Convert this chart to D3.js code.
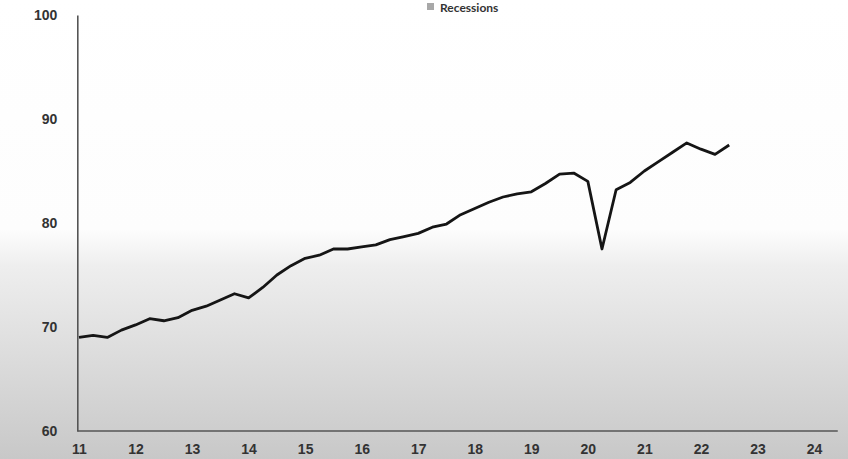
<!DOCTYPE html>
<html>
<head>
<meta charset="utf-8">
<script src="https://cdn.jsdelivr.net/npm/d3@7"></script>
<style>
  body { margin: 0; background: #fff; }
  svg { display: block; font-family: "Lato", "Open Sans", sans-serif; }
  .tick-label { fill: #333; font-size: 14px; font-weight: 700; }
</style>
</head>
<body>
<div id="chart"></div>
<script>
// quarterly series, 2011 Q1 .. 2022 Q3
var years = [2011, 2012, 2013, 2014, 2015, 2016, 2017, 2018, 2019, 2020, 2021, 2022];
var values = [
  69.0, 69.2, 69.0, 69.7,
  70.2, 70.8, 70.6, 70.9,
  71.6, 72.0, 72.6, 73.2,
  72.8, 73.8, 75.0, 75.9,
  76.6, 76.9, 77.5, 77.5,
  77.7, 77.9, 78.4, 78.7,
  79.0, 79.6, 79.9, 80.8,
  81.4, 82.0, 82.5, 82.8,
  83.0, 83.8, 84.7, 84.8,
  84.0, 77.5, 83.2, 83.9,
  85.0, 85.9, 86.8, 87.7,
  87.1, 86.6, 87.5
];
var xTicks = [11, 12, 13, 14, 15, 16, 17, 18, 19, 20, 21, 22, 23, 24];
var yTicks = [60, 70, 80, 90, 100];
var legendLabel = "Recessions";

var W = 848, H = 459;

// build date points from the year list: year + quarter offset
var data = values.map(function(v, i) {
  return { t: years[0] + i / 4, v: v };
});

var x = d3.scaleLinear().domain([2011, 2024]).range([79, 814]);
var y = d3.scaleLinear().domain([60, 100]).range([431, 15]);
var xLeft = 2010.97, xRight = 2024.42;

var svg = d3.select("#chart").append("svg")
  .attr("width", W)
  .attr("height", H);

// background fade, white on top and gray at the bottom
var defs = svg.append("defs");
var grad = defs.append("linearGradient")
  .attr("id", "bg").attr("x1", 0).attr("y1", 0).attr("x2", 0).attr("y2", 1);
grad.append("stop").attr("offset", "0%").attr("stop-color", "#ffffff");
grad.append("stop").attr("offset", "50%").attr("stop-color", "#fdfdfd");
grad.append("stop").attr("offset", "58%").attr("stop-color", "#eeeeee");
grad.append("stop").attr("offset", "80%").attr("stop-color", "#dadada");
grad.append("stop").attr("offset", "100%").attr("stop-color", "#c8c8c8");

svg.append("rect")
  .attr("width", W).attr("height", H)
  .attr("fill", "url(#bg)");

// axes
var yAxis = d3.axisLeft(y).tickValues(yTicks).tickSize(0).tickPadding(20);
var gy = svg.append("g")
  .attr("transform", "translate(" + x(xLeft) + ",0)")
  .call(yAxis);
gy.select(".domain").attr("stroke", "#555").attr("stroke-width", 1.6);
gy.selectAll("text").attr("class", "tick-label").attr("font-family", null).attr("font-size", null);

var xAxis = d3.axisBottom(x)
  .tickValues(xTicks.map(function(d) { return 2000 + d; }))
  .tickFormat(function(d) { return d - 2000; })
  .tickSize(0).tickPadding(13);
var gx = svg.append("g")
  .attr("transform", "translate(0," + y(60) + ")")
  .call(xAxis);
gx.select(".domain").remove();
gx.selectAll("text").attr("class", "tick-label").attr("font-family", null).attr("font-size", null);

svg.append("line")
  .attr("x1", x(xLeft)).attr("x2", x(xRight))
  .attr("y1", y(60)).attr("y2", y(60))
  .attr("stroke", "#555").attr("stroke-width", 1.6);

// the series line
var line = d3.line()
  .x(function(d) { return x(d.t); })
  .y(function(d) { return y(d.v); });

svg.append("path")
  .datum(data)
  .attr("d", line)
  .attr("fill", "none")
  .attr("stroke", "#151515")
  .attr("stroke-width", 2.8)
  .attr("stroke-linejoin", "round");

// legend at the top edge
var lg = svg.append("g").attr("transform", "translate(427,0)");
lg.append("rect")
  .attr("x", 0).attr("y", 3).attr("width", 7).attr("height", 7)
  .attr("fill", "#a8a8a8");
lg.append("text")
  .attr("x", 13).attr("y", 12)
  .attr("fill", "#333")
  .attr("font-size", "12px")
  .attr("font-weight", 700)
  .text(legendLabel);
</script>
</body>
</html>
